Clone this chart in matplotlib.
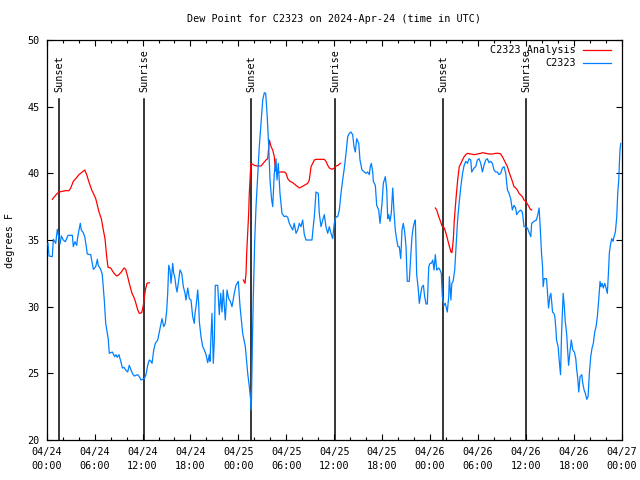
import matplotlib
matplotlib.use('Agg')
import matplotlib.pyplot as plt
import numpy as np

plt.rcParams['font.family'] = ['DejaVu Sans Mono', 'DejaVu Sans']

# ---------------- data (hours since 2024-04-24 00:00 UTC, degrees F) -------------
obs_hours = [
    0.16, 0.29, 0.70, 0.83, 1.13, 1.33, 1.50, 1.67, 1.83, 2.08, 2.33, 2.67, 3.21, 3.33,
    3.54, 3.76, 3.83, 4.04, 4.21, 4.33, 4.58, 4.76, 4.96, 5.08, 5.51, 5.84, 6.14, 6.34,
    6.46, 6.76, 6.96, 7.09, 7.21, 7.39, 7.59, 7.71, 7.84, 8.21, 8.51, 8.68, 8.84, 9.05,
    9.34, 9.47, 9.68, 9.89, 10.14, 10.34, 10.56, 10.77, 10.97, 11.39, 11.60, 11.81, 12.02,
    12.22, 12.43, 12.65, 12.85, 13.06, 13.19, 13.40, 13.60, 13.90, 14.10, 14.28, 14.44,
    14.65, 14.85, 15.03, 15.15, 15.28, 15.44, 15.57, 15.78, 15.90, 16.03, 16.19, 16.32,
    16.53, 16.69, 16.91, 17.11, 17.32, 17.44, 17.66, 17.86, 18.07, 18.28, 18.48, 18.57,
    18.70, 18.91, 19.03, 19.11, 19.32, 19.54, 19.74, 19.95, 20.16, 20.36, 20.45, 20.57,
    20.70, 20.86, 20.99, 21.11, 21.41, 21.61, 21.79, 21.95, 22.11, 22.36, 22.58, 22.79,
    22.99, 23.20, 23.49, 23.70, 23.99, 24.21, 24.54, 24.87, 25.17, 25.37, 25.54, 25.62,
    25.75, 25.87, 26.05, 26.21, 26.42, 26.62, 26.84, 27.05, 27.25, 27.42, 27.59, 27.80,
    27.96, 28.17, 28.30, 28.50, 28.71, 28.84, 29.00, 29.21, 29.46, 29.75, 29.97, 30.18,
    30.38, 30.59, 30.80, 31.00, 31.22, 31.43, 31.63, 31.84, 32.05, 32.26, 32.47, 32.88,
    33.22, 33.31, 33.51, 33.72, 34.01, 34.13, 34.35, 34.56, 34.76, 34.97, 35.19, 35.39,
    35.60, 35.81, 36.01, 36.23, 36.44, 36.64, 36.85, 37.06, 37.27, 37.48, 37.69, 37.89,
    38.10, 38.31, 38.48, 38.64, 38.82, 39.07, 39.23, 39.48, 39.77, 39.98, 40.19, 40.40,
    40.52, 40.65, 40.82, 40.90, 41.15, 41.32, 41.57, 41.74, 41.86, 41.99, 42.15, 42.28,
    42.40, 42.58, 42.70, 42.83, 42.99, 43.15, 43.33, 43.49, 43.65, 43.83, 43.99, 44.15,
    44.33, 44.49, 44.65, 44.83, 44.99, 45.15, 45.40, 45.58, 45.74, 45.91, 46.08, 46.16,
    46.33, 46.50, 46.66, 46.84, 47.00, 47.17, 47.33, 47.50, 47.66, 47.84, 48.00, 48.16,
    48.34, 48.50, 48.66, 48.84, 49.09, 49.25, 49.41, 49.54, 49.75, 49.91, 50.16, 50.34,
    50.42, 50.61, 50.73, 50.89, 51.09, 51.23, 51.44, 51.64, 51.86, 52.07, 52.27, 52.48,
    52.69, 52.89, 53.10, 53.22, 53.51, 53.72, 53.93, 54.13, 54.35, 54.56, 54.76, 54.97,
    55.18, 55.38, 55.60, 55.81, 56.01, 56.22, 56.43, 56.63, 56.85, 57.06, 57.27, 57.48,
    57.69, 57.89, 58.10, 58.19, 58.31, 58.51, 58.72, 58.85, 59.06, 59.35, 59.56, 59.77,
    59.98, 60.19, 60.39, 60.61, 60.73, 61.02, 61.32, 61.49, 61.66, 61.79, 61.96, 62.09,
    62.16, 62.29, 62.59, 62.72, 62.84, 63.00, 63.13, 63.25, 63.34, 63.50, 63.63, 63.75,
    63.84, 64.04, 64.17, 64.34, 64.47, 64.67, 64.80, 64.93, 65.10, 65.23, 65.35, 65.52,
    65.69, 65.87, 66.07, 66.25, 66.37, 66.50, 66.62, 66.79, 67.00, 67.13, 67.29, 67.45,
    67.63, 67.79, 67.95, 68.12, 68.29, 68.45, 68.62, 68.79, 68.95, 69.12, 69.29, 69.41,
    69.54, 69.70, 69.87, 70.04, 70.20, 70.33, 70.45, 70.58, 70.75, 70.92, 71.04, 71.21,
    71.38, 71.51, 71.63, 71.71, 71.79, 71.88,
]
obs_dewpt = [
    34.75, 33.8, 33.75, 35.05, 34.75, 35.8, 35.25, 34.7, 35.3, 35.0, 34.87, 35.35, 35.35, 34.5,
    34.87, 34.6, 35.0, 35.75, 36.25, 35.75, 35.55, 35.25, 34.5, 33.95, 33.9, 32.8, 33.0, 33.55,
    33.1, 32.8, 32.4, 31.4, 30.5, 28.75, 28.0, 27.55, 26.5, 26.6, 26.25, 26.4, 26.2, 26.4,
    25.75, 25.4, 25.45, 25.25, 25.1, 25.6, 25.25, 24.95, 24.8, 24.9, 24.75, 24.5, 24.55,
    24.6, 24.9, 25.6, 26.0, 25.9, 25.75, 26.75, 27.25, 27.5, 28.1, 28.6, 29.1,
    28.5, 28.75, 29.75, 31.0, 33.1, 32.75, 31.75, 33.25, 32.5, 32.25, 31.5, 31.1,
    32.0, 32.75, 32.5, 31.5, 31.0, 30.5, 31.4, 30.6, 30.5, 29.25, 28.75, 29.5,
    30.0, 31.25, 30.25, 28.9, 27.75, 27.0, 26.75, 26.4, 25.8, 26.4, 25.9, 27.75,
    29.5, 25.75, 27.5, 31.6, 31.6, 29.4, 31.0, 29.6, 31.25, 29.0, 31.25, 30.6,
    30.4, 30.0, 31.0, 31.6, 31.9, 30.0, 28.0, 27.0, 25.0, 24.0, 23.0, 22.25,
    27.1, 30.75, 35.0, 37.5, 39.75, 42.0, 43.75, 45.5, 46.05, 46.0, 44.5, 42.0,
    39.5, 38.0, 37.5, 40.0, 41.1, 39.5, 40.75, 38.5, 37.0, 36.75, 36.8, 36.7,
    36.25, 36.0, 35.75, 36.25, 35.5, 35.75, 36.25, 36.0, 36.5, 35.4, 35.0, 35.0,
    35.0, 35.6, 36.75, 38.6, 38.5, 37.0, 36.0, 36.5, 36.9, 36.0, 35.5, 36.0,
    35.5, 35.1, 36.25, 36.75, 36.75, 37.25, 38.5, 39.5, 40.4, 41.5, 42.75, 43.0,
    43.1, 42.9, 42.0, 41.6, 42.6, 42.25, 41.0, 40.25, 40.1, 40.0, 40.1, 39.9,
    40.5, 40.75, 40.1, 39.4, 39.1, 37.6, 37.25, 36.25, 37.0, 37.75, 39.25, 39.5,
    39.75, 38.75, 36.6, 36.9, 36.4, 37.0, 38.9, 37.1, 35.75, 35.0, 34.5, 34.5,
    33.6, 35.75, 36.25, 35.6, 34.5, 31.9, 31.9, 33.75, 35.25, 36.0, 36.4, 36.5,
    32.4, 31.5, 30.25, 31.0, 31.5, 31.6, 30.75, 30.2, 30.2, 33.0, 33.25, 33.25,
    33.5, 32.75, 33.9, 32.75, 32.9, 32.75, 32.5, 30.75, 30.1, 30.25, 29.6, 30.75,
    32.25, 30.5, 31.75, 31.9, 32.75, 34.25, 36.4, 37.75, 39.0, 40.0, 40.6, 40.9,
    40.75, 41.1, 41.0, 40.1, 40.4, 40.5, 41.0, 41.1, 40.75, 40.1, 40.6, 41.0,
    41.1, 40.8, 40.9, 40.75, 40.25, 40.1, 40.1, 39.9, 40.0, 40.4, 40.5, 40.0,
    38.75, 38.5, 38.1, 37.75, 37.25, 37.6, 37.4, 36.9, 37.1, 37.25, 37.1, 36.0,
    36.0, 35.9, 35.6, 35.25, 36.25, 36.4, 36.5, 36.9, 37.4, 36.0, 34.0, 33.0,
    31.5, 32.1, 32.1, 31.0, 29.9, 30.75, 31.0, 30.25, 29.6, 29.5, 29.25, 28.4,
    27.5, 27.0, 26.0, 24.9, 28.0, 31.0, 30.1, 28.9, 28.0, 26.75, 25.6, 26.6,
    27.5, 26.75, 26.6, 26.1, 25.25, 24.6, 23.6, 24.75, 24.9, 24.25, 23.75, 23.5,
    23.05, 23.25, 25.0, 26.25, 26.9, 27.25, 28.1, 28.5, 29.25, 30.5, 31.9, 31.5,
    31.75, 31.4, 31.75, 31.4, 31.0, 32.4, 34.0, 34.6, 35.1, 34.9, 35.25, 35.6,
    36.75, 38.6, 39.5, 40.75, 41.75, 42.25,
]

nan = float('nan')
analysis_hours = [
    0.70, 1.25, 1.54, 1.95, 2.38, 2.79, 3.01, 3.33, 3.63, 4.04, 4.46, 4.76, 5.01, 5.26,
    5.64, 5.84, 6.14, 6.34, 6.55, 6.84, 7.09, 7.30, 7.51, 7.68, 8.01, 8.43, 8.77, 9.05,
    9.34, 9.68, 9.89, 10.14, 10.34, 10.68, 10.89, 11.10, 11.40, 11.60, 11.90, 12.10,
    12.35, 12.56, 12.85, 18.0,
    24.62, 24.83, 24.96, 25.04, 25.17, 25.29, 25.37, 25.50, 25.58, 26.00, 26.42, 26.84,
    27.12, 27.46, 27.68, 27.88, 28.09, 28.30, 28.50, 28.63, 28.84, 29.30, 29.75, 29.97,
    30.18, 30.47, 30.80, 31.22, 31.63, 31.97, 32.26, 32.68, 32.88, 33.10, 33.31, 33.51,
    33.72, 34.22, 34.76, 34.97, 35.19, 35.39, 35.73, 36.01, 36.23, 36.48, 36.77, 42.0,
    48.66, 48.84, 49.09, 49.25, 49.50, 49.79, 50.00, 50.21, 50.41, 50.62, 50.75, 50.91,
    51.04, 51.25, 51.46, 51.66, 51.86, 52.07, 52.27, 52.48, 52.69, 53.10, 53.51, 53.93,
    54.35, 54.56, 54.97, 55.38, 55.81, 56.22, 56.63, 56.85, 57.06, 57.27, 57.48, 57.69,
    57.89, 58.10, 58.31, 58.51, 58.72, 58.94, 59.14, 59.56, 59.77, 59.98, 60.19, 60.39,
    60.56, 60.73,
]
analysis_dewpt = [
    38.05, 38.45, 38.6, 38.65, 38.7, 38.7, 38.9, 39.4, 39.6, 39.9, 40.1, 40.25, 39.9, 39.4,
    38.75, 38.5, 38.1, 37.6, 37.1, 36.6, 35.75, 35.1, 33.75, 32.95, 32.9, 32.5, 32.3, 32.4,
    32.6, 32.9, 32.8, 32.25, 31.75, 31.0, 30.75, 30.4, 29.75, 29.5, 29.55, 30.1,
    31.25, 31.75, 31.8, nan,
    32.0, 31.75, 32.5, 34.0, 35.5, 37.0, 38.5, 40.0, 40.75, 40.6, 40.55, 40.55,
    40.75, 41.0, 41.1, 42.5, 42.0, 41.75, 41.25, 40.25, 40.05, 40.1, 40.1, 40.0,
    39.6, 39.4, 39.3, 39.1, 38.9, 39.0, 39.1, 39.25, 39.5, 40.5, 40.75, 41.0,
    41.05, 41.05, 41.05, 40.9, 40.6, 40.4, 40.3, 40.4, 40.55, 40.6, 40.75, nan,
    37.4, 37.25, 36.75, 36.5, 36.05, 35.9, 35.5, 35.0, 34.55, 34.1, 34.05, 35.0,
    36.5, 38.1, 39.5, 40.5, 40.75, 41.0, 41.25, 41.4, 41.5, 41.45, 41.4, 41.45,
    41.5, 41.55, 41.5, 41.45, 41.45, 41.5, 41.5, 41.45, 41.25, 41.0, 40.75, 40.5,
    40.1, 39.75, 39.4, 39.0, 38.9, 38.75, 38.5, 38.25, 38.0, 37.9, 37.7, 37.5,
    37.3, 37.25,
]

sunset_hours = [1.58, 25.62, 49.67]
sunrise_hours = [12.20, 36.14, 60.06]

tick_hours = list(range(0, 73, 6))
tick_labels = ['04/24\n00:00', '04/24\n06:00', '04/24\n12:00', '04/24\n18:00',
               '04/25\n00:00', '04/25\n06:00', '04/25\n12:00', '04/25\n18:00',
               '04/26\n00:00', '04/26\n06:00', '04/26\n12:00', '04/26\n18:00',
               '04/27\n00:00']

title = 'Dew Point for C2323 on 2024-Apr-24 (time in UTC)'
red = '#ff0000'
blue = '#0080ff'
fs = 7.3

# ---------------- figure ----------------
fig = plt.figure(figsize=(6.4, 4.8), dpi=100)
ax = fig.add_axes([46.7 / 640, 40 / 480, 575 / 640, 400 / 480])

ax.set_xlim(0, 72)
ax.set_ylim(20, 50)

for h in sunset_hours + sunrise_hours:
    ax.plot([h, h], [20, 45.6], color='black', lw=1.1, zorder=2)
for h in sunset_hours:
    ax.text(h, 46.1, 'Sunset', rotation=90, ha='center', va='bottom', fontsize=fs)
for h in sunrise_hours:
    ax.text(h, 46.1, 'Sunrise', rotation=90, ha='center', va='bottom', fontsize=fs)

ax.plot(analysis_hours, analysis_dewpt, color=red, lw=0.9, zorder=3)
ax.plot(obs_hours, obs_dewpt, color=blue, lw=0.9, zorder=4)

# legend (gnuplot style: right-aligned text, sample on the right)
ax.text(0.9205, 0.975, 'C2323 Analysis', transform=ax.transAxes, ha='right',
        va='center', fontsize=fs)
ax.plot([0.9327, 0.981], [0.975, 0.975], transform=ax.transAxes, color=red, lw=0.9)
ax.text(0.9205, 0.9425, 'C2323', transform=ax.transAxes, ha='right',
        va='center', fontsize=fs)
ax.plot([0.9327, 0.981], [0.9425, 0.9425], transform=ax.transAxes, color=blue, lw=0.9)

ax.set_xticks(tick_hours)
ax.set_xticklabels(tick_labels)
ax.set_xticks(list(range(0, 73, 2)), minor=True)
ax.set_yticks([20, 25, 30, 35, 40, 45, 50])
ax.tick_params(axis='both', which='major', direction='in', length=4, width=0.8,
               top=True, right=True, labelsize=fs, pad=5)
ax.tick_params(axis='x', which='minor', direction='in', length=2, width=0.8,
               top=True, bottom=True)
for lab in ax.get_xticklabels():
    lab.set_linespacing(1.5)
for s in ax.spines.values():
    s.set_linewidth(0.9)

ax.set_ylabel('degrees F', fontsize=fs, labelpad=9)
fig.text(334 / 640, 1 - 19 / 480, title, ha='center', va='center', fontsize=fs)

fig.savefig('out.png', dpi=100)
